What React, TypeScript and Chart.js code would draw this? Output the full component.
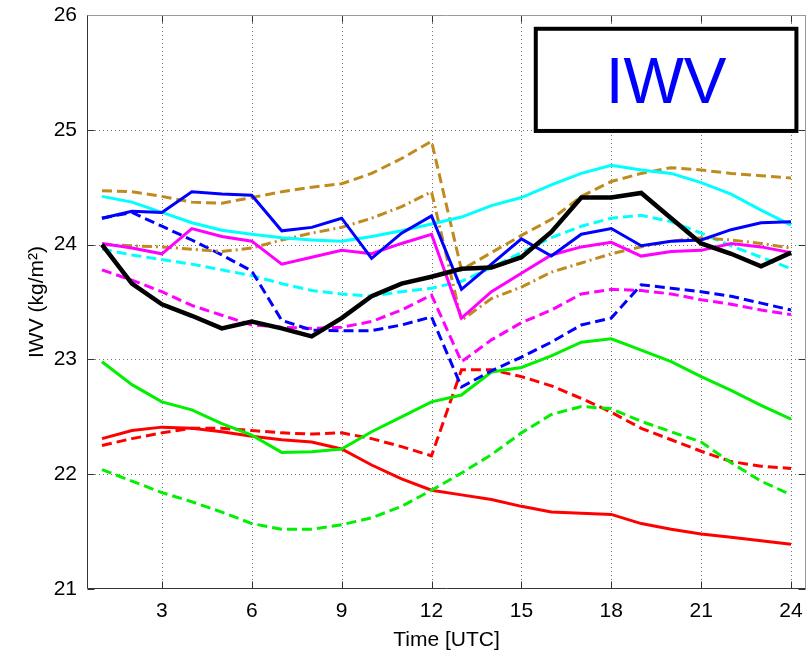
import React, { useEffect, useRef } from "react";
import { Chart, registerables } from "chart.js";

Chart.register(...registerables);

const hours = [1, 2, 3, 4, 5, 6, 7, 8, 9, 10, 11, 12, 13, 14, 15, 16, 17, 18, 19, 20, 21, 22, 23, 24];
const xTicks = [3, 6, 9, 12, 15, 18, 21, 24];
const yTicks = [21, 22, 23, 24, 25, 26];

const blackSolid = [24.0, 23.66, 23.48, 23.38, 23.27, 23.33, 23.27, 23.2, 23.36, 23.55, 23.66, 23.72, 23.79, 23.8, 23.89, 24.11, 24.41, 24.41, 24.45, 24.23, 24.01, 23.92, 23.81, 23.93];
const blueSolid = [24.23, 24.29, 24.28, 24.46, 24.44, 24.43, 24.12, 24.15, 24.23, 23.88, 24.1, 24.25, 23.61, 23.83, 24.05, 23.9, 24.09, 24.14, 23.99, 24.03, 24.04, 24.13, 24.19, 24.2];
const cyanSolid = [24.42, 24.37, 24.28, 24.19, 24.125, 24.09, 24.06, 24.04, 24.03, 24.07, 24.12, 24.18, 24.24, 24.34, 24.41, 24.52, 24.62, 24.69, 24.65, 24.62, 24.54, 24.44, 24.3, 24.17];
const magentaSolid = [24.01, 23.97, 23.92, 24.14, 24.07, 24.03, 23.83, 23.89, 23.95, 23.92, 24.01, 24.09, 23.36, 23.59, 23.75, 23.91, 23.98, 24.02, 23.9, 23.94, 23.95, 24.01, 23.98, 23.93];
const goldDashed = [24.47, 24.46, 24.42, 24.37, 24.36, 24.41, 24.46, 24.5, 24.53, 24.62, 24.75, 24.9, 23.78, 23.93, 24.08, 24.22, 24.42, 24.55, 24.62, 24.67, 24.65, 24.62, 24.6, 24.58];
const goldDashDot = [24.0, 23.99, 23.98, 23.96, 23.94, 23.97, 24.04, 24.1, 24.15, 24.23, 24.33, 24.46, 23.34, 23.53, 23.63, 23.76, 23.84, 23.92, 23.98, 24.03, 24.06, 24.04, 24.01, 23.97];
const blueDashed = [24.23, 24.28, 24.16, 24.04, 23.91, 23.77, 23.34, 23.255, 23.25, 23.25, 23.3, 23.37, 22.76, 22.9, 23.02, 23.15, 23.3, 23.36, 23.65, 23.62, 23.59, 23.55, 23.49, 23.43];
const magentaDashed = [23.78, 23.69, 23.59, 23.47, 23.385, 23.3, 23.28, 23.27, 23.28, 23.33, 23.43, 23.56, 22.98, 23.17, 23.32, 23.43, 23.57, 23.61, 23.6, 23.57, 23.52, 23.48, 23.43, 23.39];
const cyanDashed = [23.96, 23.91, 23.87, 23.83, 23.78, 23.73, 23.66, 23.6, 23.57, 23.55, 23.59, 23.62, 23.68, 23.8, 23.93, 24.06, 24.16, 24.23, 24.255, 24.2, 24.1, 23.99, 23.89, 23.79];
const greenSolid = [22.98, 22.78, 22.63, 22.56, 22.44, 22.34, 22.19, 22.195, 22.22, 22.37, 22.5, 22.63, 22.69, 22.89, 22.93, 23.03, 23.15, 23.18, 23.08, 22.98, 22.85, 22.73, 22.6, 22.48];
const greenDashed = [22.04, 21.94, 21.84, 21.76, 21.67, 21.57, 21.52, 21.52, 21.56, 21.62, 21.72, 21.86, 22.01, 22.17, 22.36, 22.52, 22.59, 22.57, 22.46, 22.37, 22.28, 22.1, 21.94, 21.82];
const redSolid = [22.31, 22.38, 22.41, 22.4, 22.37, 22.33, 22.3, 22.28, 22.22, 22.08, 21.96, 21.86, 21.82, 21.78, 21.72, 21.67, 21.66, 21.65, 21.57, 21.52, 21.48, 21.45, 21.42, 21.39];
const redDashed = [22.25, 22.31, 22.36, 22.4, 22.4, 22.38, 22.36, 22.35, 22.36, 22.31, 22.24, 22.16, 22.91, 22.91, 22.85, 22.77, 22.66, 22.54, 22.4, 22.3, 22.2, 22.11, 22.07, 22.05];

const boxLabel = "IWV";
const boxX = [15.48, 24.18];
const boxY = [24.99, 25.88];

const FONT = "'Liberation Sans', Arial, Helvetica, sans-serif";
const GOLD = "#bf8b1e";
const DASH = [10, 5];
const DASHDOT = [10, 4, 2, 4];

function ds(label: string, data: number[], color: string, width: number, dash: number[]) {
  return {
    label,
    data: hours.map((h, i) => ({ x: h, y: data[i] })),
    borderColor: color,
    backgroundColor: color,
    borderWidth: width,
    borderDash: dash,
    pointRadius: 0,
    fill: false,
    tension: 0,
    borderCapStyle: "butt" as const,
    borderJoinStyle: "miter" as const,
  };
}

const framePlugin = {
  id: "frame",
  beforeDatasetsDraw(chart: any) {
    const { ctx, chartArea, scales } = chart;
    const { left, right, top, bottom } = chartArea;
    ctx.save();
    ctx.strokeStyle = "rgba(70,70,70,0.75)";
    ctx.lineWidth = 1;
    ctx.setLineDash([1, 3]);
    xTicks.forEach((v) => {
      const px = Math.round(scales.x.getPixelForValue(v)) + 0.5;
      ctx.beginPath();
      ctx.moveTo(px, top);
      ctx.lineTo(px, bottom);
      ctx.stroke();
    });
    yTicks.forEach((v) => {
      const py = Math.round(scales.y.getPixelForValue(v)) + 0.5;
      if (v === yTicks[0] || v === yTicks[yTicks.length - 1]) return;
      ctx.beginPath();
      ctx.moveTo(left, py);
      ctx.lineTo(right, py);
      ctx.stroke();
    });
    ctx.restore();
  },
  afterDatasetsDraw(chart: any) {
    const { ctx, chartArea, scales } = chart;
    const { left, right, top, bottom } = chartArea;
    const L = Math.round(left) + 0.5;
    const R = Math.round(right) - 0.5;
    const T = Math.round(top) + 0.5;
    const B = Math.round(bottom) - 0.5;
    ctx.save();
    ctx.setLineDash([]);
    ctx.lineWidth = 1;
    ctx.strokeStyle = "#333";
    const tl = 7;
    xTicks.forEach((v) => {
      const px = Math.round(scales.x.getPixelForValue(v)) + 0.5;
      ctx.beginPath();
      ctx.moveTo(px, B);
      ctx.lineTo(px, B - tl);
      ctx.moveTo(px, T);
      ctx.lineTo(px, T + tl);
      ctx.stroke();
    });
    yTicks.forEach((v) => {
      const py = Math.round(scales.y.getPixelForValue(v)) + 0.5;
      ctx.beginPath();
      ctx.moveTo(L, py);
      ctx.lineTo(L + tl, py);
      ctx.moveTo(R, py);
      ctx.lineTo(R - tl, py);
      ctx.stroke();
    });
    ctx.strokeStyle = "#999";
    ctx.beginPath();
    ctx.moveTo(L, T);
    ctx.lineTo(R, T);
    ctx.lineTo(R, B);
    ctx.stroke();
    ctx.strokeStyle = "#333";
    ctx.beginPath();
    ctx.moveTo(L, T);
    ctx.lineTo(L, B);
    ctx.lineTo(R, B);
    ctx.stroke();
    const x1 = scales.x.getPixelForValue(boxX[0]);
    const x2 = scales.x.getPixelForValue(boxX[1]);
    const y1 = scales.y.getPixelForValue(boxY[1]);
    const y2 = scales.y.getPixelForValue(boxY[0]);
    ctx.fillStyle = "#fff";
    ctx.fillRect(x1, y1, x2 - x1, y2 - y1);
    ctx.strokeStyle = "#000";
    ctx.lineWidth = 4;
    ctx.strokeRect(x1, y1, x2 - x1, y2 - y1);
    ctx.fillStyle = "#0000ff";
    ctx.font = `64px ${FONT}`;
    ctx.textAlign = "center";
    ctx.textBaseline = "alphabetic";
    ctx.fillText(boxLabel, (x1 + x2) / 2, (y1 + y2) / 2 + 23);
    ctx.restore();
  },
};

function zeroPad(s: any) {
  s.paddingTop = 0;
  s.paddingBottom = 0;
  s.paddingLeft = 0;
  s.paddingRight = 0;
}

export default function App() {
  const ref = useRef<HTMLCanvasElement>(null);
  useEffect(() => {
    const chart = new Chart(ref.current as HTMLCanvasElement, {
      type: "line",
      data: {
        datasets: [
          ds("black", blackSolid, "#000000", 4.5, []),
          ds("blue", blueSolid, "#0000ff", 3, []),
          ds("magenta", magentaSolid, "#ff00ff", 3, []),
          ds("cyan", cyanSolid, "#00ffff", 3, []),
          ds("gold dashed", goldDashed, GOLD, 3, DASH),
          ds("gold dash-dot", goldDashDot, GOLD, 3, DASHDOT),
          ds("blue dashed", blueDashed, "#0000ff", 3, DASH),
          ds("magenta dashed", magentaDashed, "#ff00ff", 3, DASH),
          ds("cyan dashed", cyanDashed, "#00ffff", 3, DASH),
          ds("green", greenSolid, "#00f000", 3, []),
          ds("green dashed", greenDashed, "#00f000", 3, DASH),
          ds("red", redSolid, "#ff0000", 3, []),
          ds("red dashed", redDashed, "#ff0000", 3, DASH),
        ] as any,
      },
      options: {
        responsive: false,
        animation: false,
        devicePixelRatio: 1,
        layout: { padding: { left: 0, top: 15, right: 2, bottom: 0 } },
        plugins: { legend: { display: false }, tooltip: { enabled: false } },
        scales: {
          x: {
            type: "linear",
            min: 0.5,
            max: 24.5,
            grid: { display: false, drawTicks: false },
            border: { display: false },
            afterBuildTicks: (s: any) => {
              s.ticks = xTicks.map((v) => ({ value: v }));
            },
            afterFit: (s: any) => {
              s.height = 71;
              zeroPad(s);
            },
            ticks: {
              color: "#000",
              font: { family: FONT, size: 21 },
              padding: 10,
              maxRotation: 0,
              autoSkip: false,
            },
            title: {
              display: true,
              text: "Time [UTC]",
              color: "#000",
              font: { family: FONT, size: 21 },
              padding: { top: 0, bottom: 7 },
            },
          },
          y: {
            type: "linear",
            min: 21,
            max: 26,
            grid: { display: false, drawTicks: false },
            border: { display: false },
            afterBuildTicks: (s: any) => {
              s.ticks = yTicks.map((v) => ({ value: v }));
            },
            afterFit: (s: any) => {
              s.width = 87;
              zeroPad(s);
            },
            ticks: {
              color: "#000",
              font: { family: FONT, size: 21 },
              padding: 10,
            },
            title: {
              display: true,
              text: "IWV (kg/m²)",
              color: "#000",
              font: { family: FONT, size: 21 },
              padding: { top: 25, bottom: 0 },
            },
          },
        },
      } as any,
      plugins: [framePlugin],
    });
    return () => chart.destroy();
  }, []);
  return (
    <div style={{ position: "fixed", left: 0, top: 0, width: 808, height: 660, background: "#fff" }}>
      <canvas ref={ref} width={808} height={660} style={{ display: "block", width: 808, height: 660 }} />
    </div>
  );
}
